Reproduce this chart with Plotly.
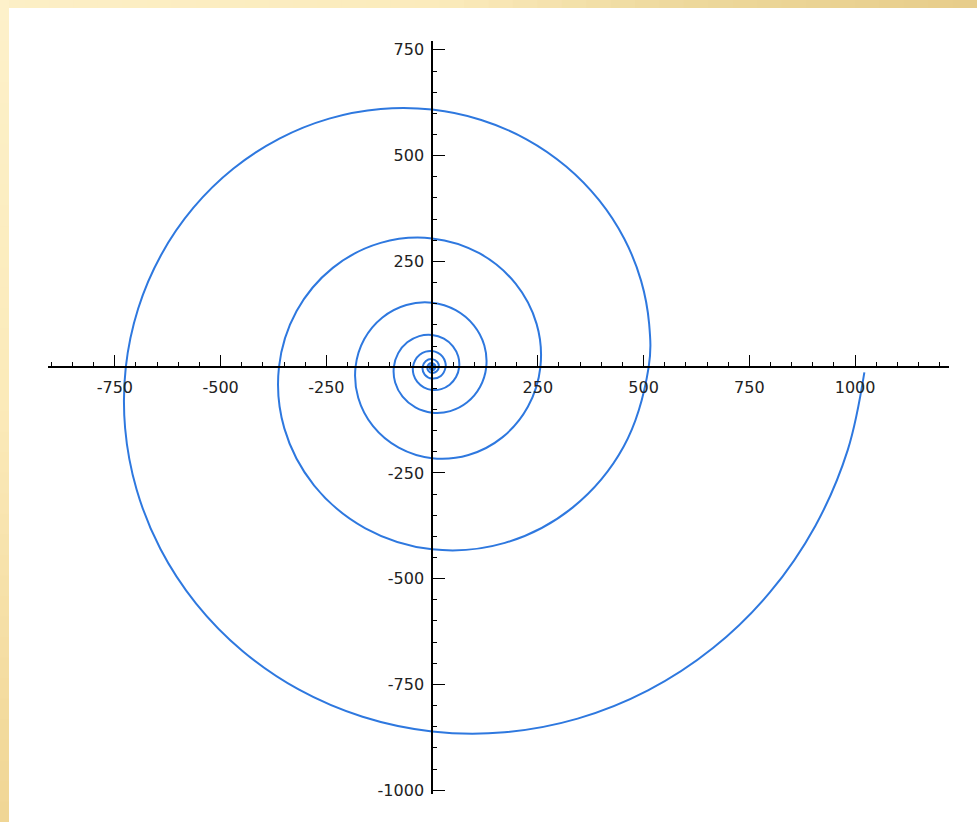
import numpy as np
import plotly.graph_objects as go

# Inner turns: spiral radius every eighth of a turn, from the centre outwards
inner_radius = [
    1.0, 1.09, 1.19, 1.30, 1.41, 1.54, 1.68, 1.83,
    2.0, 2.18, 2.38, 2.59, 2.83, 3.08, 3.36, 3.67,
    4.0, 4.36, 4.76, 5.19, 5.66, 6.17, 6.73, 7.34,
    8.0, 8.7, 9.5, 10.4, 11.3, 12.3, 13.5, 14.7,
    16, 17.4, 19.0, 20.7, 22.6, 24.7, 26.9, 29.3,
]
# Middle turns: radius every sixteenth of a turn
middle_radius = [
    32, 33.4, 34.9, 36.4, 38.1, 39.7, 41.5, 43.3, 45.3, 47.3, 49.4, 51.5, 53.8, 56.2, 58.7, 61.3,
    64, 66.8, 69.8, 72.9, 76.1, 79.5, 83.0, 86.7, 90.5, 94.5, 98.7, 103.1, 107.6, 112.4, 117.4, 122.6,
    128, 133.7, 139.6, 145.8, 152.2, 159.0, 166.0, 173.4, 181.0, 189.0, 197.4, 206.1, 215.3, 224.8, 234.8, 245.1,
    256, 267.4, 279.2, 291.5, 304.4, 317.9, 332.0, 346.7, 362.0, 378.1, 394.8, 412.3, 430.5, 449.6, 469.5, 490.3,
]
# Outermost turn: radius every thirty-second of a turn
outer_radius = [
    512, 523.2, 534.7, 546.4, 558.3, 570.6, 583.1, 595.8,
    608.9, 622.2, 635.9, 649.8, 664.0, 678.5, 693.4, 708.6,
    724.1, 739.9, 756.1, 772.7, 789.6, 806.9, 824.6, 842.6,
    861.1, 879.9, 899.2, 918.9, 939.0, 959.6, 980.6, 1002.0,
]
# The curve stops just below the positive x axis
end_radius = 1022
end_angle = 3599.3

x_ticks = [-750, -500, -250, 250, 500, 750, 1000]
x_labels = ["-750", "-500", "-250", "250", "500", "750", "1000"]
y_ticks = [-1000, -750, -500, -250, 250, 500, 750]
y_labels = ["-1000", "-750", "-500", "-250", "250", "500", "750"]

X_RANGE = [-908, 1222]
Y_RANGE = [-1009, 771]

# polar angles (degrees, counter-clockwise from +x) matching the radii above
inner_angle = [45.0 * k for k in range(len(inner_radius))]
a0 = 45.0 * len(inner_radius)
middle_angle = [a0 + 22.5 * k for k in range(len(middle_radius))]
a1 = a0 + 22.5 * len(middle_radius)
outer_angle = [a1 + 11.25 * k for k in range(len(outer_radius))]

theta = np.radians(inner_angle + middle_angle + outer_angle + [end_angle])
r = np.array(inner_radius + middle_radius + outer_radius + [end_radius], dtype=float)
xs = r * np.cos(theta)
ys = r * np.sin(theta)

fig = go.Figure()
fig.add_trace(go.Scatter(
    x=xs, y=ys, mode="lines",
    line=dict(color="#2E78DF", width=2, shape="spline", smoothing=1.03, simplify=False),
    hoverinfo="skip",
))

W, H = 977, 822
ML, MR, MT, MB = 48, 28, 41, 28
PW, PH = W - ML - MR, H - MT - MB


def px_to_paper_x(px):
    return (px - ML) / PW


def px_to_paper_y(py):
    return (H - MB - py) / PH


def hex_to_rgb(h):
    h = h.lstrip("#")
    return [int(h[i:i + 2], 16) for i in (0, 2, 4)]


def blend(stops, t):
    # stops: list of (position 0..1, hex colour)
    for (p0, c0), (p1, c1) in zip(stops, stops[1:]):
        if p0 <= t <= p1:
            f = (t - p0) / (p1 - p0) if p1 > p0 else 0
            a, b = hex_to_rgb(c0), hex_to_rgb(c1)
            return "rgb(%d,%d,%d)" % tuple(round(a[i] + (b[i] - a[i]) * f) for i in range(3))
    return stops[-1][1]


shapes = []
# golden band along the top edge
top_stops = [(0, "#FCEFC6"), (0.45, "#FBEBBC"), (0.7, "#EDD89C"), (1, "#E7CD8A")]
n = 40
for i in range(n):
    x0, x1 = W * i / n, W * (i + 1) / n + 1
    shapes.append(dict(type="rect", xref="paper", yref="paper", layer="below",
                       x0=px_to_paper_x(x0), x1=px_to_paper_x(x1),
                       y0=px_to_paper_y(8), y1=px_to_paper_y(0),
                       line=dict(width=0), fillcolor=blend(top_stops, (i + 0.5) / n)))
# golden band along the left edge
left_stops = [(0, "#FDF1CA"), (0.5, "#FBEAB9"), (1, "#F0D594")]
for i in range(n):
    y0, y1 = H * i / n, H * (i + 1) / n + 1
    shapes.append(dict(type="rect", xref="paper", yref="paper", layer="below",
                       x0=px_to_paper_x(0), x1=px_to_paper_x(9),
                       y0=px_to_paper_y(y1), y1=px_to_paper_y(y0),
                       line=dict(width=0), fillcolor=blend(left_stops, (i + 0.5) / n)))

tick_font = dict(family="DejaVu Sans", size=16, color="#222222")
x_pos = (0 - Y_RANGE[0]) / (Y_RANGE[1] - Y_RANGE[0])
y_pos = (0 - X_RANGE[0]) / (X_RANGE[1] - X_RANGE[0])

fig.update_layout(
    width=W, height=H,
    margin=dict(l=ML, r=MR, t=MT, b=MB, pad=0),
    paper_bgcolor="white", plot_bgcolor="white",
    showlegend=False,
    shapes=shapes,
    xaxis=dict(
        range=X_RANGE, showgrid=False, zeroline=False,
        showline=True, linecolor="black", linewidth=1.6,
        anchor="free", position=x_pos, side="bottom",
        ticks="inside", ticklen=11, tickwidth=1.4, tickcolor="black",
        tickmode="array", tickvals=x_ticks, ticktext=x_labels,
        tickfont=tick_font, ticklabelstandoff=6,
        minor=dict(tickmode="linear", tick0=0, dtick=50, ticks="inside",
                   ticklen=4, tickwidth=1.2, tickcolor="black", showgrid=False),
    ),
    yaxis=dict(
        range=Y_RANGE, showgrid=False, zeroline=False,
        showline=True, linecolor="black", linewidth=1.6,
        anchor="free", position=y_pos, side="left",
        ticks="inside", ticklen=12, tickwidth=1.4, tickcolor="black",
        tickmode="array", tickvals=y_ticks, ticktext=y_labels,
        tickfont=tick_font, ticklabelstandoff=4,
        minor=dict(tickmode="linear", tick0=0, dtick=50, ticks="inside",
                   ticklen=4, tickwidth=1.2, tickcolor="black", showgrid=False),
    ),
)

fig.write_html("out.html")
